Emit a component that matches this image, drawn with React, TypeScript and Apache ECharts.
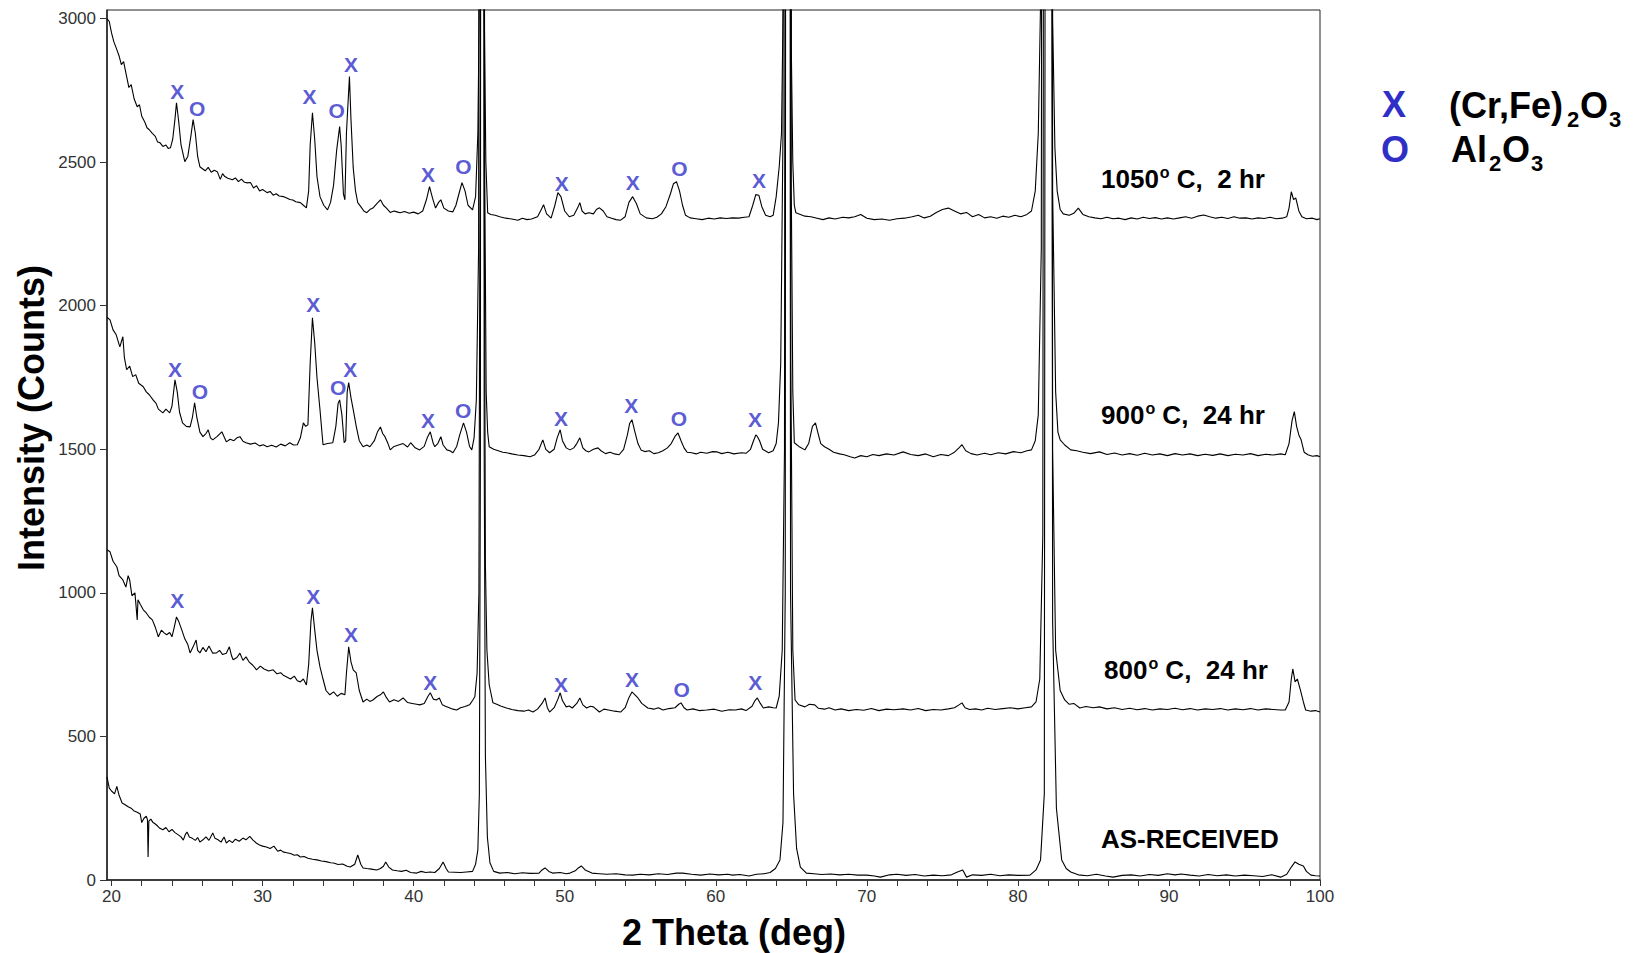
import React, { useEffect, useRef } from "react";
import * as echarts from "echarts";

const FONT = "'Liberation Sans', Arial, Helvetica, sans-serif";
const BLUE = "#2f2fc8";

// x-axis ticks and labels (2 Theta, deg)
const xTickValues = [20, 22, 24, 26, 28, 30, 32, 34, 36, 38, 40, 42, 44, 46, 48, 50, 52, 54, 56, 58, 60, 62, 64, 66, 68, 70, 72, 74, 76, 78, 80, 82, 84, 86, 88, 90, 92, 94, 96, 98, 100];
const xLabelValues = [20, 30, 40, 50, 60, 70, 80, 90, 100];
const yTickValues = [0, 500, 1000, 1500, 2000, 2500, 3000];

// AS-RECEIVED trace [2theta, counts]
const asReceived: [number, number][] = [
  [19.7, 359], [19.85, 320], [20.0, 310], [20.2, 300], [20.35, 326], [20.5, 295], [20.7, 268], [20.9, 262], [21.1, 255], [21.3, 250], [21.5, 240], [21.7, 236], [21.9, 230], [22.0, 200], [22.15, 215], [22.3, 222], [22.38, 210], [22.42, 80], [22.47, 205], [22.6, 212], [22.75, 200], [22.9, 195], [23.05, 188], [23.2, 180], [23.4, 175], [23.6, 183], [23.8, 168], [24.0, 176], [24.2, 165], [24.4, 158], [24.6, 150], [24.75, 139], [24.9, 160], [25.0, 167], [25.15, 150], [25.35, 145], [25.55, 138], [25.7, 148], [25.85, 132], [26.05, 140], [26.25, 150], [26.45, 138], [26.7, 164], [26.85, 145], [27.05, 140], [27.25, 132], [27.45, 150], [27.6, 129], [27.8, 138], [28.0, 130], [28.2, 142], [28.45, 135], [28.7, 146], [28.9, 140], [29.15, 152], [29.35, 140], [29.6, 128], [29.8, 122], [30.0, 118], [30.25, 115], [30.5, 110], [30.75, 118], [31.0, 100], [31.2, 104], [31.35, 98], [31.6, 95], [31.85, 92], [32.1, 86], [32.3, 88], [32.5, 80], [32.75, 82], [33.0, 76], [33.3, 72], [33.6, 70], [33.9, 66], [34.2, 64], [34.5, 60], [34.7, 59], [35.0, 54], [35.3, 56], [35.6, 48], [35.8, 45], [36.1, 55], [36.3, 87], [36.5, 55], [36.65, 42], [36.9, 40], [37.2, 38], [37.55, 35], [37.8, 40], [38.0, 48], [38.15, 63], [38.35, 45], [38.6, 35], [38.9, 32], [39.2, 30], [39.5, 34], [39.8, 26], [40.2, 24], [40.5, 30], [40.8, 26], [41.1, 28], [41.4, 26], [41.7, 40], [41.95, 63], [42.15, 40], [42.3, 28], [42.7, 27], [43.1, 26], [43.5, 28], [43.9, 30], [44.1, 55], [44.25, 105], [44.35, 300], [44.42, 1500], [44.48, 9000], [44.6, 9000], [44.67, 1500], [44.75, 430], [44.88, 150], [45.05, 60], [45.3, 30], [45.7, 24], [46.2, 26], [46.7, 22], [47.2, 25], [47.7, 23], [48.3, 24], [48.5, 35], [48.7, 42], [48.95, 30], [49.2, 24], [49.7, 26], [50.1, 22], [50.35, 24], [50.7, 32], [50.9, 42], [51.1, 49], [51.35, 35], [51.8, 24], [52.3, 22], [52.8, 20], [53.4, 22], [54.0, 18], [54.5, 17], [55.0, 20], [55.6, 18], [56.2, 22], [56.8, 19], [57.4, 24], [57.8, 24], [58.4, 20], [59.0, 17], [59.6, 21], [60.2, 18], [60.8, 20], [61.1, 17], [61.6, 19], [62.2, 14], [62.7, 20], [63.2, 22], [63.6, 26], [63.95, 40], [64.25, 70], [64.45, 200], [64.6, 1000], [64.68, 9000], [64.85, 9000], [64.95, 1000], [65.15, 300], [65.35, 110], [65.6, 45], [66.0, 24], [66.5, 22], [67.0, 19], [67.6, 21], [68.2, 18], [68.8, 20], [69.4, 17], [70.0, 17], [70.5, 14], [70.9, 10], [71.5, 18], [72.0, 20], [72.6, 16], [73.2, 19], [73.8, 14], [74.4, 17], [75.0, 15], [75.6, 18], [76.0, 28], [76.35, 35], [76.6, 10], [77.0, 18], [77.6, 16], [78.2, 20], [78.8, 15], [79.4, 18], [80.0, 16], [80.8, 17], [81.2, 35], [81.5, 70], [81.75, 300], [81.9, 9000], [82.15, 9000], [82.3, 900], [82.55, 250], [82.9, 70], [83.2, 40], [83.5, 28], [84.0, 18], [84.6, 15], [85.2, 20], [85.8, 14], [86.3, 10], [86.9, 16], [87.5, 18], [88.1, 14], [88.7, 19], [89.3, 16], [89.9, 22], [90.4, 18], [90.8, 21], [91.4, 17], [92.0, 14], [92.6, 19], [93.2, 15], [93.8, 18], [94.4, 14], [95.0, 17], [95.6, 15], [96.2, 12], [96.8, 18], [97.4, 10], [97.8, 20], [98.1, 45], [98.35, 63], [98.6, 55], [98.9, 49], [99.1, 30], [99.4, 17], [99.7, 15], [100, 14],
];

// 800 C, 24 hr trace
const t800: [number, number][] = [
  [19.7, 1150], [19.9, 1143], [20.1, 1110], [20.35, 1091], [20.5, 1060], [20.75, 1045], [20.95, 1020], [21.1, 1060], [21.2, 1045], [21.35, 990], [21.55, 1000], [21.7, 906], [21.75, 976], [21.9, 960], [22.1, 941], [22.3, 930], [22.5, 915], [22.7, 906], [22.9, 880], [23.1, 847], [23.3, 870], [23.5, 860], [23.65, 854], [23.85, 862], [24.0, 847], [24.15, 880], [24.3, 916], [24.45, 900], [24.65, 871], [24.85, 840], [25.05, 820], [25.2, 791], [25.4, 812], [25.6, 836], [25.7, 800], [25.85, 791], [26.05, 810], [26.25, 795], [26.45, 815], [26.7, 790], [26.95, 791], [27.15, 800], [27.35, 785], [27.6, 790], [27.8, 812], [27.95, 780], [28.05, 767], [28.3, 775], [28.5, 790], [28.7, 765], [28.9, 777], [29.1, 760], [29.35, 748], [29.6, 732], [29.85, 745], [30.1, 735], [30.4, 728], [30.7, 732], [30.95, 718], [31.2, 722], [31.4, 712], [31.6, 707], [31.85, 700], [32.1, 710], [32.3, 694], [32.5, 690], [32.7, 700], [32.9, 679], [33.05, 750], [33.2, 900], [33.3, 948], [33.45, 871], [33.6, 800], [33.8, 742], [34.0, 700], [34.2, 660], [34.45, 645], [34.7, 655], [34.95, 640], [35.2, 650], [35.45, 645], [35.55, 720], [35.7, 812], [35.85, 760], [36.0, 732], [36.2, 721], [36.4, 660], [36.65, 620], [36.9, 630], [37.1, 622], [37.3, 627], [37.6, 640], [37.8, 645], [38.0, 655], [38.2, 635], [38.4, 620], [38.7, 628], [39.0, 622], [39.3, 634], [39.6, 618], [39.9, 615], [40.2, 612], [40.4, 610], [40.7, 615], [40.95, 640], [41.1, 652], [41.3, 630], [41.5, 627], [41.7, 634], [41.9, 610], [42.1, 605], [42.4, 599], [42.6, 595], [42.85, 592], [43.1, 600], [43.4, 604], [43.7, 610], [43.9, 625], [44.05, 638], [44.2, 720], [44.32, 1000], [44.42, 3000], [44.48, 9000], [44.6, 9000], [44.67, 2500], [44.75, 1100], [44.85, 800], [45.0, 680], [45.25, 617], [45.5, 612], [45.8, 605], [46.15, 599], [46.5, 594], [46.9, 590], [47.3, 588], [47.6, 592], [47.9, 585], [48.2, 595], [48.5, 615], [48.7, 634], [48.85, 600], [49.0, 585], [49.3, 600], [49.55, 630], [49.7, 652], [49.85, 625], [50.1, 603], [50.3, 606], [50.5, 599], [50.8, 615], [51.0, 634], [51.2, 610], [51.45, 599], [51.7, 605], [51.9, 603], [52.3, 585], [52.6, 595], [52.9, 592], [53.3, 588], [53.7, 585], [54.0, 600], [54.25, 635], [54.45, 655], [54.65, 645], [54.85, 634], [55.1, 615], [55.5, 599], [55.9, 595], [56.2, 600], [56.5, 592], [56.9, 597], [57.3, 600], [57.55, 612], [57.7, 617], [57.9, 600], [58.1, 592], [58.5, 596], [58.9, 590], [59.4, 592], [59.9, 595], [60.4, 588], [60.9, 593], [61.3, 592], [61.7, 596], [62.0, 590], [62.4, 605], [62.6, 625], [62.75, 634], [62.95, 615], [63.15, 599], [63.5, 603], [63.8, 600], [64.0, 599], [64.2, 640], [64.4, 800], [64.55, 1500], [64.68, 9000], [64.85, 9000], [64.97, 1800], [65.1, 800], [65.25, 627], [65.5, 610], [65.9, 603], [66.2, 612], [66.55, 610], [66.8, 598], [67.2, 595], [67.5, 600], [67.9, 592], [68.3, 596], [68.8, 590], [69.3, 594], [69.8, 591], [70.3, 597], [70.8, 590], [71.3, 595], [71.8, 593], [72.4, 596], [72.9, 592], [73.4, 597], [73.9, 590], [74.4, 594], [74.9, 592], [75.4, 596], [75.8, 600], [76.1, 610], [76.3, 617], [76.5, 600], [76.8, 594], [77.2, 596], [77.6, 592], [78.0, 598], [78.5, 594], [79.0, 597], [79.5, 600], [80.0, 596], [80.5, 600], [80.9, 603], [81.2, 620], [81.45, 700], [81.65, 1200], [81.8, 9000], [82.15, 9000], [82.3, 1500], [82.5, 800], [82.8, 660], [83.1, 627], [83.4, 612], [83.7, 615], [84.1, 599], [84.5, 604], [85.0, 600], [85.4, 603], [85.9, 596], [86.4, 600], [86.9, 594], [87.4, 598], [87.9, 593], [88.4, 597], [88.9, 592], [89.4, 596], [89.9, 594], [90.4, 598], [90.9, 593], [91.4, 597], [91.9, 592], [92.4, 596], [92.9, 594], [93.4, 597], [93.9, 592], [94.4, 596], [94.9, 593], [95.4, 597], [95.9, 592], [96.4, 596], [96.9, 594], [97.4, 592], [97.7, 592], [97.95, 620], [98.1, 700], [98.2, 735], [98.35, 690], [98.5, 700], [98.7, 662], [98.9, 620], [99.05, 592], [99.4, 588], [99.7, 590], [100, 585],
];

// 900 C, 24 hr trace
const t900: [number, number][] = [
  [19.7, 1960], [19.9, 1951], [20.1, 1916], [20.3, 1900], [20.55, 1857], [20.75, 1892], [20.85, 1820], [21.0, 1777], [21.2, 1790], [21.4, 1753], [21.6, 1760], [21.8, 1730], [22.1, 1718], [22.3, 1700], [22.5, 1690], [22.75, 1672], [22.95, 1660], [23.1, 1640], [23.4, 1627], [23.6, 1640], [23.85, 1627], [24.0, 1650], [24.2, 1742], [24.35, 1700], [24.5, 1630], [24.7, 1592], [24.95, 1580], [25.2, 1578], [25.35, 1610], [25.5, 1662], [25.65, 1610], [25.85, 1560], [26.05, 1544], [26.25, 1555], [26.4, 1568], [26.55, 1540], [26.7, 1533], [27.0, 1545], [27.3, 1561], [27.6, 1526], [27.85, 1535], [28.1, 1530], [28.3, 1540], [28.5, 1544], [28.7, 1528], [28.9, 1523], [29.2, 1518], [29.5, 1522], [29.8, 1512], [30.05, 1516], [30.3, 1509], [30.6, 1514], [30.9, 1508], [31.2, 1518], [31.5, 1512], [31.8, 1523], [32.05, 1515], [32.3, 1516], [32.5, 1540], [32.7, 1592], [32.85, 1580], [33.0, 1585], [33.15, 1800], [33.3, 1958], [33.45, 1871], [33.6, 1750], [33.8, 1638], [34.0, 1516], [34.3, 1520], [34.65, 1523], [34.85, 1580], [35.0, 1660], [35.1, 1672], [35.25, 1620], [35.4, 1523], [35.5, 1530], [35.6, 1700], [35.7, 1732], [35.85, 1680], [36.0, 1638], [36.2, 1580], [36.4, 1530], [36.65, 1509], [36.9, 1515], [37.1, 1509], [37.4, 1530], [37.6, 1560], [37.8, 1578], [37.95, 1555], [38.1, 1544], [38.3, 1520], [38.45, 1498], [38.7, 1510], [39.0, 1515], [39.3, 1520], [39.6, 1508], [39.8, 1523], [40.1, 1505], [40.4, 1498], [40.7, 1510], [40.9, 1540], [41.1, 1561], [41.3, 1520], [41.4, 1509], [41.6, 1520], [41.8, 1544], [41.95, 1515], [42.2, 1498], [42.4, 1495], [42.6, 1488], [42.85, 1510], [43.05, 1550], [43.3, 1592], [43.5, 1560], [43.7, 1510], [43.85, 1498], [44.0, 1540], [44.15, 1672], [44.3, 2200], [44.42, 9000], [44.6, 9000], [44.7, 2500], [44.8, 1700], [44.9, 1560], [45.0, 1509], [45.3, 1500], [45.6, 1495], [45.9, 1490], [46.15, 1488], [46.5, 1484], [46.9, 1480], [47.3, 1478], [47.7, 1474], [48.0, 1480], [48.3, 1500], [48.55, 1533], [48.75, 1500], [49.0, 1488], [49.3, 1500], [49.5, 1540], [49.7, 1568], [49.85, 1530], [50.1, 1505], [50.35, 1498], [50.6, 1505], [50.8, 1520], [51.0, 1540], [51.2, 1505], [51.4, 1495], [51.6, 1491], [51.9, 1500], [52.2, 1505], [52.4, 1495], [52.7, 1485], [53.0, 1490], [53.3, 1484], [53.6, 1481], [53.9, 1500], [54.15, 1550], [54.3, 1590], [54.45, 1603], [54.65, 1560], [54.85, 1520], [55.05, 1498], [55.3, 1492], [55.6, 1495], [55.9, 1485], [56.2, 1488], [56.5, 1495], [56.8, 1505], [57.05, 1520], [57.3, 1545], [57.5, 1557], [57.7, 1530], [57.9, 1505], [58.1, 1490], [58.4, 1488], [58.7, 1484], [59.0, 1490], [59.4, 1486], [59.8, 1492], [60.1, 1491], [60.4, 1485], [60.8, 1490], [61.2, 1484], [61.7, 1488], [62.0, 1486], [62.3, 1500], [62.5, 1530], [62.65, 1550], [62.75, 1545], [62.9, 1530], [63.1, 1500], [63.5, 1488], [63.8, 1495], [64.0, 1520], [64.15, 1592], [64.3, 1800], [64.45, 2600], [64.6, 9000], [64.9, 9000], [65.0, 2400], [65.1, 1700], [65.2, 1523], [65.5, 1510], [65.9, 1498], [66.15, 1520], [66.4, 1580], [66.6, 1592], [66.75, 1560], [66.95, 1520], [67.2, 1509], [67.5, 1500], [67.8, 1490], [68.2, 1484], [68.5, 1481], [68.9, 1474], [69.2, 1470], [69.6, 1478], [70.0, 1474], [70.4, 1482], [70.8, 1478], [71.3, 1484], [71.8, 1480], [72.4, 1491], [72.9, 1482], [73.4, 1478], [73.9, 1484], [74.4, 1474], [74.9, 1482], [75.4, 1478], [75.8, 1490], [76.1, 1505], [76.3, 1516], [76.55, 1495], [76.9, 1485], [77.3, 1480], [77.8, 1486], [78.2, 1481], [78.7, 1488], [79.2, 1484], [79.7, 1492], [80.2, 1488], [80.6, 1495], [80.9, 1498], [81.15, 1530], [81.35, 1620], [81.55, 2200], [81.7, 9000], [82.15, 9000], [82.3, 2400], [82.5, 1700], [82.65, 1560], [82.8, 1533], [83.1, 1515], [83.5, 1498], [83.9, 1495], [84.3, 1490], [84.8, 1485], [85.4, 1491], [85.9, 1482], [86.4, 1487], [86.9, 1480], [87.4, 1485], [87.9, 1479], [88.4, 1486], [88.9, 1480], [89.4, 1484], [89.9, 1478], [90.4, 1485], [90.9, 1480], [91.4, 1484], [91.9, 1478], [92.4, 1483], [92.9, 1479], [93.4, 1484], [93.9, 1478], [94.4, 1483], [94.9, 1480], [95.4, 1485], [95.9, 1478], [96.4, 1483], [96.9, 1480], [97.4, 1484], [97.7, 1481], [97.95, 1520], [98.15, 1600], [98.3, 1631], [98.45, 1580], [98.6, 1550], [98.75, 1533], [98.95, 1490], [99.2, 1481], [99.5, 1476], [99.8, 1478], [100, 1474],
];

// 1050 C, 2 hr trace
const t1050: [number, number][] = [
  [19.7, 3000], [19.85, 2990], [20.0, 2950], [20.15, 2920], [20.35, 2892], [20.5, 2870], [20.65, 2840], [20.8, 2850], [21.0, 2798], [21.15, 2760], [21.3, 2770], [21.5, 2720], [21.7, 2693], [21.85, 2700], [22.0, 2660], [22.2, 2640], [22.35, 2620], [22.5, 2613], [22.7, 2600], [22.9, 2590], [23.05, 2570], [23.2, 2568], [23.4, 2555], [23.6, 2560], [23.75, 2548], [23.9, 2550], [24.05, 2580], [24.2, 2650], [24.3, 2707], [24.45, 2640], [24.6, 2560], [24.85, 2502], [25.05, 2520], [25.25, 2590], [25.4, 2648], [25.55, 2600], [25.7, 2520], [25.85, 2484], [26.0, 2478], [26.2, 2470], [26.4, 2482], [26.6, 2465], [26.8, 2472], [27.0, 2467], [27.2, 2440], [27.35, 2460], [27.5, 2450], [27.7, 2444], [28.0, 2439], [28.2, 2445], [28.4, 2432], [28.6, 2441], [28.8, 2430], [29.0, 2428], [29.2, 2429], [29.4, 2410], [29.6, 2418], [29.8, 2400], [30.0, 2405], [30.3, 2394], [30.5, 2398], [30.7, 2385], [30.9, 2390], [31.1, 2382], [31.4, 2380], [31.6, 2375], [31.8, 2370], [32.0, 2368], [32.2, 2362], [32.5, 2359], [32.7, 2350], [32.9, 2341], [33.05, 2400], [33.15, 2560], [33.3, 2672], [33.45, 2580], [33.6, 2450], [33.8, 2380], [34.05, 2350], [34.3, 2334], [34.5, 2360], [34.7, 2420], [34.9, 2540], [35.1, 2624], [35.2, 2560], [35.35, 2390], [35.45, 2369], [35.55, 2600], [35.65, 2700], [35.75, 2798], [35.85, 2650], [36.0, 2480], [36.15, 2400], [36.3, 2359], [36.5, 2345], [36.7, 2330], [36.9, 2324], [37.1, 2335], [37.3, 2340], [37.55, 2355], [37.8, 2369], [38.0, 2350], [38.2, 2340], [38.45, 2325], [38.7, 2330], [38.9, 2327], [39.1, 2324], [39.4, 2328], [39.7, 2322], [40.0, 2326], [40.3, 2320], [40.6, 2330], [40.85, 2370], [41.05, 2415], [41.25, 2375], [41.45, 2340], [41.65, 2360], [41.8, 2369], [42.0, 2340], [42.3, 2330], [42.6, 2327], [42.8, 2350], [43.0, 2390], [43.2, 2429], [43.4, 2400], [43.6, 2350], [43.9, 2334], [44.1, 2380], [44.25, 2600], [44.38, 3200], [44.45, 9000], [44.6, 9000], [44.68, 3000], [44.78, 2500], [44.9, 2324], [45.1, 2318], [45.4, 2315], [45.7, 2310], [46.1, 2305], [46.5, 2302], [46.9, 2298], [47.2, 2305], [47.5, 2300], [47.8, 2302], [48.2, 2310], [48.4, 2330], [48.6, 2352], [48.8, 2320], [49.1, 2305], [49.35, 2350], [49.55, 2394], [49.75, 2380], [50.0, 2330], [50.3, 2310], [50.6, 2315], [50.85, 2340], [51.0, 2359], [51.15, 2330], [51.35, 2320], [51.6, 2324], [51.9, 2320], [52.1, 2335], [52.3, 2341], [52.55, 2330], [52.8, 2310], [53.1, 2305], [53.4, 2300], [53.7, 2298], [54.0, 2310], [54.25, 2360], [54.5, 2380], [54.75, 2355], [55.0, 2320], [55.4, 2306], [55.8, 2303], [56.1, 2308], [56.4, 2320], [56.7, 2345], [57.0, 2390], [57.2, 2425], [57.4, 2432], [57.6, 2400], [57.8, 2350], [58.0, 2315], [58.3, 2306], [58.7, 2303], [59.1, 2300], [59.5, 2305], [59.9, 2302], [60.3, 2306], [60.7, 2304], [61.1, 2306], [61.5, 2305], [61.9, 2308], [62.2, 2310], [62.45, 2350], [62.65, 2387], [62.85, 2385], [63.05, 2345], [63.3, 2315], [63.6, 2310], [63.8, 2315], [64.0, 2380], [64.2, 2484], [64.35, 2600], [64.5, 3200], [64.6, 9000], [64.9, 9000], [65.0, 2900], [65.1, 2500], [65.2, 2350], [65.3, 2324], [65.6, 2318], [65.9, 2312], [66.3, 2310], [66.7, 2305], [67.1, 2300], [67.5, 2306], [67.9, 2302], [68.4, 2308], [68.8, 2306], [69.2, 2310], [69.6, 2318], [70.0, 2305], [70.5, 2300], [71.0, 2302], [71.5, 2298], [72.0, 2303], [72.5, 2305], [73.0, 2310], [73.4, 2315], [73.8, 2306], [74.2, 2312], [74.6, 2325], [75.0, 2335], [75.4, 2340], [75.8, 2330], [76.2, 2320], [76.6, 2325], [77.0, 2310], [77.4, 2318], [77.8, 2306], [78.2, 2310], [78.6, 2305], [79.0, 2312], [79.4, 2308], [79.8, 2315], [80.2, 2310], [80.6, 2318], [80.9, 2330], [81.15, 2400], [81.35, 2600], [81.55, 3200], [81.7, 9000], [82.15, 9000], [82.3, 3000], [82.45, 2550], [82.6, 2400], [82.8, 2335], [83.0, 2320], [83.4, 2315], [83.7, 2322], [84.0, 2340], [84.3, 2318], [84.7, 2310], [85.1, 2306], [85.5, 2303], [85.9, 2308], [86.3, 2303], [86.7, 2305], [87.1, 2300], [87.5, 2306], [87.9, 2302], [88.3, 2308], [88.7, 2304], [89.1, 2307], [89.5, 2302], [89.9, 2306], [90.3, 2302], [90.7, 2306], [91.1, 2310], [91.5, 2305], [91.9, 2312], [92.3, 2316], [92.7, 2310], [93.1, 2305], [93.5, 2308], [93.9, 2304], [94.3, 2310], [94.7, 2305], [95.1, 2306], [95.5, 2302], [95.9, 2306], [96.3, 2304], [96.7, 2308], [97.1, 2303], [97.5, 2305], [97.8, 2310], [97.95, 2340], [98.1, 2397], [98.25, 2370], [98.4, 2375], [98.6, 2330], [98.8, 2310], [99.1, 2303], [99.5, 2305], [99.8, 2300], [100, 2303],
];

// Phase markers: [2theta, counts, letter]  X = (Cr,Fe)2O3, O = Al2O3
const markers1050: [number, number, string][] = [
  [24.35, 2746, "X"], [25.67, 2688, "O"], [33.1, 2728, "X"], [34.9, 2680, "O"], [35.85, 2841, "X"], [40.95, 2456, "X"], [43.3, 2484, "O"], [49.8, 2426, "X"], [54.5, 2430, "X"], [57.6, 2477, "O"], [62.87, 2437, "X"],
];
const markers900: [number, number, string][] = [
  [24.2, 1777, "X"], [25.85, 1701, "O"], [33.35, 2003, "X"], [35.0, 1716, "O"], [35.8, 1777, "X"], [40.95, 1600, "X"], [43.28, 1635, "O"], [49.75, 1609, "X"], [54.4, 1651, "X"], [57.56, 1608, "O"], [62.6, 1604, "X"],
];
const markers800: [number, number, string][] = [
  [24.35, 972, "X"], [33.35, 987, "X"], [35.85, 856, "X"], [41.1, 687, "X"], [49.75, 682, "X"], [54.45, 700, "X"], [57.75, 662, "O"], [62.62, 689, "X"],
];

const traceNames = ["AS-RECEIVED", "800° C, 24 hr", "900° C, 24 hr", "1050° C, 2 hr"];

export default function App() {
  const ref = useRef<HTMLDivElement>(null);

  useEffect(() => {
    document.body.style.margin = "0";
    const chart = echarts.init(ref.current!, undefined, { renderer: "svg" });

    const lineSeries = [asReceived, t800, t900, t1050].map((d, i) => ({
      name: traceNames[i],
      type: "line",
      data: d,
      showSymbol: false,
      symbol: "none",
      clip: true,
      lineStyle: { color: "#000", width: 1.1 },
      z: 2,
    }));

    const allMarkers = [...markers1050, ...markers900, ...markers800].map((m) => ({
      name: m[2],
      value: [m[0], m[1]],
    }));

    const bold = (size: number) => ({ fontFamily: FONT, fontWeight: "bold" as const, fontSize: size });

    const condLabel = (x: number, y: number, main: string, rest: string) => ({
      type: "text",
      x,
      y,
      style: {
        text: `{a|${main}}{s|o}{a|${rest}}`,
        verticalAlign: "middle",
        align: "left",
        fill: "#000",
        rich: {
          a: { ...bold(26), fill: "#000", lineHeight: 30, verticalAlign: "bottom" },
          s: { ...bold(16), fill: "#000", lineHeight: 30, verticalAlign: "top", padding: [2, 0, 0, 1] },
        },
      },
    });

    const txt = (x: number, y: number, text: string, size: number, fill = "#000", align = "left") => ({
      type: "text",
      x,
      y,
      style: { text, ...bold(size), fill, align, verticalAlign: "middle" },
    });

    chart.setOption({
      animation: false,
      backgroundColor: "#fff",
      grid: {
        left: 107,
        right: 317,
        top: 10,
        bottom: 73,
        show: true,
        borderColor: "#222",
        borderWidth: 1,
        backgroundColor: "transparent",
      },
      xAxis: {
        type: "value",
        min: 19.7,
        max: 100,
        axisLine: { show: true, onZero: false, lineStyle: { color: "#222", width: 1.5 } },
        axisTick: { show: true, customValues: xTickValues, length: 6, lineStyle: { color: "#333" } },
        axisLabel: {
          customValues: xLabelValues,
          formatter: (v: number) => String(v),
          margin: 8,
          fontFamily: FONT,
          fontSize: 17,
          color: "#333",
        },
        splitLine: { show: false },
      },
      yAxis: {
        type: "value",
        min: 0,
        max: 3030,
        axisLine: { show: true, onZero: false, lineStyle: { color: "#222", width: 1.5 } },
        axisTick: { show: true, customValues: yTickValues, length: 7, lineStyle: { color: "#333" } },
        axisLabel: {
          customValues: yTickValues,
          formatter: (v: number) => String(v),
          margin: 11,
          fontFamily: FONT,
          fontSize: 17,
          color: "#333",
        },
        splitLine: { show: false },
      },
      series: [
        ...lineSeries,
        {
          name: "phases",
          type: "scatter",
          data: allMarkers,
          symbolSize: 0,
          itemStyle: { color: "transparent" },
          z: 5,
          label: {
            show: true,
            position: "inside",
            formatter: "{b}",
            color: BLUE,
            fontFamily: FONT,
            fontWeight: "bold",
            fontSize: 21,
          },
        },
      ],
      graphic: [
        // axis titles
        {
          type: "text",
          x: 31,
          y: 418,
          rotation: Math.PI / 2,
          style: { text: "Intensity (Counts)", ...bold(36), fill: "#000", align: "center", verticalAlign: "middle" },
        },
        {
          type: "text",
          x: 734,
          y: 932,
          style: { text: "2 Theta (deg)", ...bold(36), fill: "#000", align: "center", verticalAlign: "middle" },
        },
        // sample labels
        condLabel(1101, 177, "1050", " C,  2 hr"),
        condLabel(1101, 413, "900", " C,  24 hr"),
        condLabel(1104, 668, "800", " C,  24 hr"),
        txt(1101, 839, "AS-RECEIVED", 26),
        // phase legend
        txt(1394, 104, "X", 36, BLUE, "center"),
        txt(1449, 105, "(Cr,Fe)", 36),
        txt(1567, 119, "2", 22),
        txt(1580, 105, "O", 36),
        txt(1609, 119, "3", 22),
        txt(1395, 149, "O", 36, BLUE, "center"),
        txt(1451, 149, "Al", 36),
        txt(1489, 163, "2", 22),
        txt(1502, 149, "O", 36),
        txt(1531, 163, "3", 22),
      ],
    });

    return () => chart.dispose();
  }, []);

  return <div ref={ref} style={{ width: 1637, height: 953 }} />;
}
